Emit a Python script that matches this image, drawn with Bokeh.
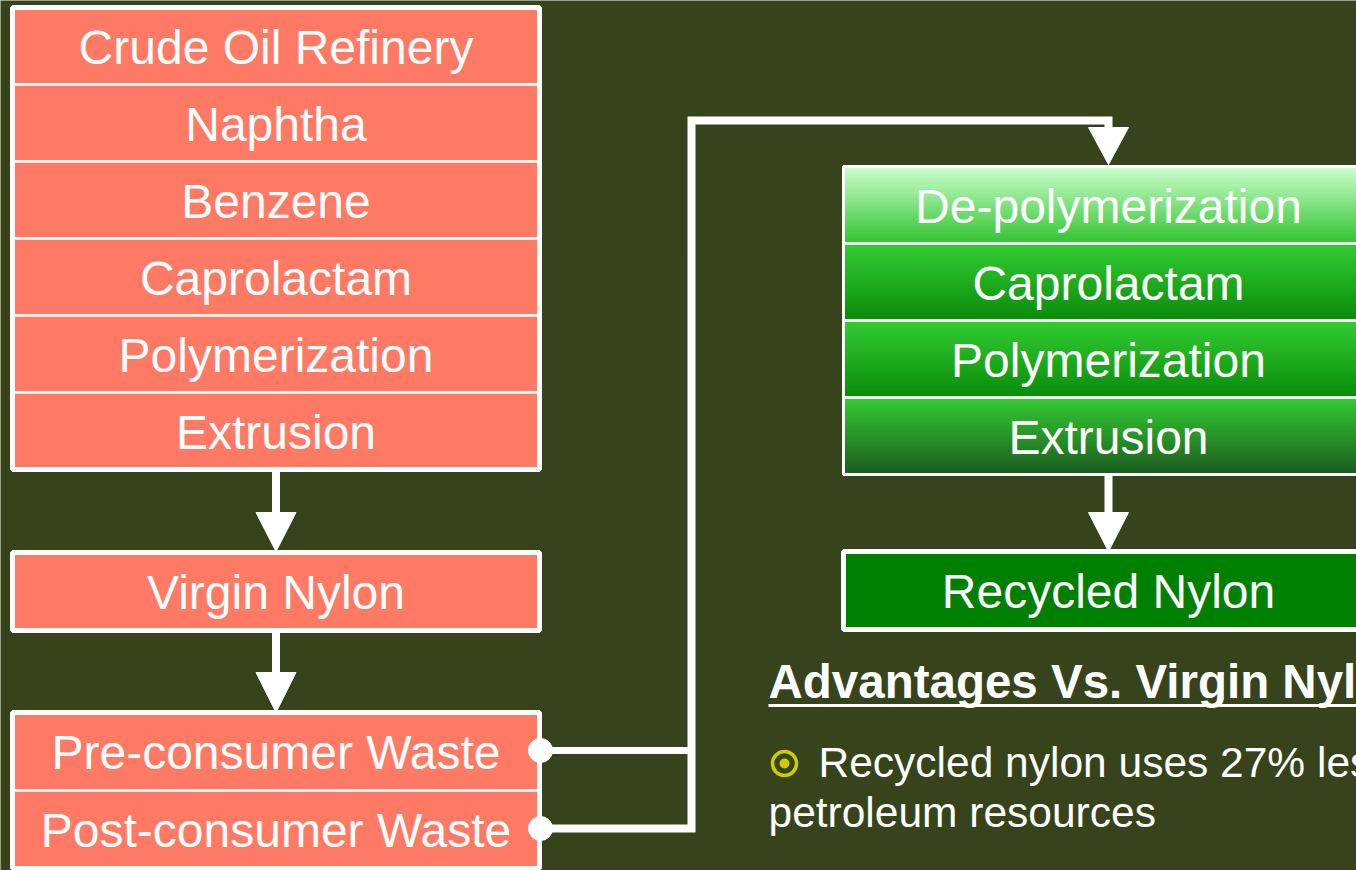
import numpy as np
from bokeh.plotting import figure
from bokeh.models import Range1d, ColumnDataSource
from bokeh.core.properties import value
from bokeh.embed import file_html
from bokeh.resources import INLINE

# ---------------- content ----------------
virgin_steps = ["Crude Oil Refinery", "Naphtha", "Benzene", "Caprolactam",
                "Polymerization", "Extrusion"]
virgin_product = ["Virgin Nylon"]
waste_sources = ["Pre-consumer Waste", "Post-consumer Waste"]
recycle_steps = ["De-polymerization", "Caprolactam", "Polymerization", "Extrusion"]
recycled_product = ["Recycled Nylon"]
heading = "Advantages Vs. Virgin Nylon"
bullet_lines = ["Recycled nylon uses 27% less", "petroleum resources"]

# ---------------- style ----------------
BG = "#36431B"
SALMON = "#FF7A64"
RECYCLED = "#008000"
BULLET = "#CCCC00"
FONT = value("Liberation Sans")
# gradient (top colour, bottom colour) per recycle step row
grad = [("#CCFFCC", "#33C433"), ("#33CC33", "#0A8C0A"),
        ("#33CC33", "#0A8C0A"), ("#33CC33", "#1C5C1E")]

# ---------------- layout (reference pixel space) ----------------
W, H = 1356, 870
LX0, LX1 = 12, 539
RX0, RX1 = 843, 1373
LCX = (LX0 + LX1) / 2
RCX = (RX0 + RX1) / 2
ROW = 77
L_TOP = 7
V_TOP, V_BOT = 552, 630
W_TOP, W_ROW = 712, 78
G_TOP = 166
R_TOP, R_BOT = 551, 629
TXT_OFF = 1

p = figure(width=W, height=H, x_range=Range1d(0, W), y_range=Range1d(H, 0),
           output_backend="svg", toolbar_location=None, min_border=0,
           x_axis_location=None, y_axis_location=None,
           background_fill_color=BG, border_fill_color=BG, outline_line_color=None)
p.grid.visible = False


def labels(cx, centers, texts, size="48px"):
    p.text(x=[cx] * len(texts), y=[c + TXT_OFF for c in centers], text=texts,
           text_color="white", text_font=FONT, text_font_size=size,
           text_align="center", text_baseline="middle")


def stack(x0, x1, top, row_h, texts, fill):
    n = len(texts)
    tops = [top + i * row_h for i in range(n)]
    bots = [t + row_h for t in tops]
    p.quad(left=x0, right=x1, top=tops, bottom=bots, fill_color=fill,
           line_color="white", line_width=2.5)
    p.quad(left=x0, right=x1, top=top, bottom=top + n * row_h, fill_alpha=0,
           line_color="white", line_width=5)
    labels((x0 + x1) / 2, [t + row_h / 2 for t in tops], texts)


def arrow(cx, y0, base, tip):
    p.segment(x0=cx, y0=y0, x1=cx, y1=base + 2, line_color="white", line_width=8)
    p.patch(x=[cx - 20, cx + 20, cx], y=[base, base, tip], fill_color="white",
            line_color="white", line_width=1)


# left (virgin) side
stack(LX0, LX1, L_TOP, ROW, virgin_steps, SALMON)
stack(LX0, LX1, V_TOP, V_BOT - V_TOP, virgin_product, SALMON)
stack(LX0, LX1, W_TOP, W_ROW, waste_sources, SALMON)
l_bot = L_TOP + ROW * len(virgin_steps)
arrow(LCX, l_bot, 512, V_TOP - 1)
arrow(LCX, V_BOT, 672, W_TOP)

# right (recycled) side, gradient rows drawn as thin strips
def hex2rgb(h):
    return np.array([int(h[i:i + 2], 16) for i in (1, 3, 5)], dtype=float)

sl, sr, st, sb, sc = [], [], [], [], []
for i, (ct, cb) in enumerate(grad):
    a, b = hex2rgb(ct), hex2rgb(cb)
    top = G_TOP + i * ROW
    for k in range(ROW):
        t = k / (ROW - 1)
        c = a + (b - a) * t
        sl.append(RX0); sr.append(RX1)
        st.append(top + k); sb.append(top + k + 1.4)
        sc.append("#%02x%02x%02x" % tuple(int(round(v)) for v in c))
p.quad(left="l", right="r", top="t", bottom="b", fill_color="c", line_color=None,
       source=ColumnDataSource(dict(l=sl, r=sr, t=st, b=sb, c=sc)))
g_tops = [G_TOP + i * ROW for i in range(len(recycle_steps))]
p.quad(left=RX0, right=RX1, top=g_tops, bottom=[t + ROW for t in g_tops],
       fill_alpha=0, line_color="white", line_width=2.5)
p.quad(left=RX0, right=RX1, top=G_TOP, bottom=G_TOP + ROW * len(recycle_steps),
       fill_alpha=0, line_color="white", line_width=3)
labels(RCX, [t + ROW / 2 for t in g_tops], recycle_steps)

stack(RX0, RX1, R_TOP, R_BOT - R_TOP, recycled_product, RECYCLED)
g_bot = G_TOP + ROW * len(recycle_steps)
arrow(RCX, g_bot, 512, R_TOP)

# connector from waste to recycling
w_c = [W_TOP + W_ROW * (i + 0.5) - 1 for i in range(len(waste_sources))]
JX = 691
TOPY = 120
p.line(x=[LX1 + 1, JX, JX, RCX, RCX], y=[w_c[1], w_c[1], TOPY, TOPY, 129],
       line_color="white", line_width=8, line_join="miter")
p.segment(x0=LX1 + 1, y0=w_c[0], x1=JX, y1=w_c[0], line_color="white", line_width=7)
p.scatter(x=[LX1 + 1] * 2, y=w_c, size=24, fill_color="white", line_color="white")
p.patch(x=[RCX - 20, RCX + 20, RCX], y=[127, 127, G_TOP - 2], fill_color="white",
        line_color="white", line_width=1)

# advantages text
TX = 768
p.text(x=[TX], y=[698 - 17], text=[heading], text_color="white", text_font=FONT,
       text_font_size="47.5px", text_font_style="bold", text_baseline="middle")
p.segment(x0=TX, y0=705, x1=1400, y1=705, line_color="white", line_width=3)
p.scatter(x=[784], y=[763], size=24, fill_color=None, line_color=BULLET, line_width=3.5)
p.scatter(x=[784], y=[763], size=10, fill_color=BULLET, line_color=None)
p.text(x=[818, TX], y=[777 - 15, 827 - 15], text=bullet_lines, text_color="white",
       text_font=FONT, text_font_size="42.5px", text_baseline="middle")

open("out.html", "w").write(file_html(p, INLINE))
